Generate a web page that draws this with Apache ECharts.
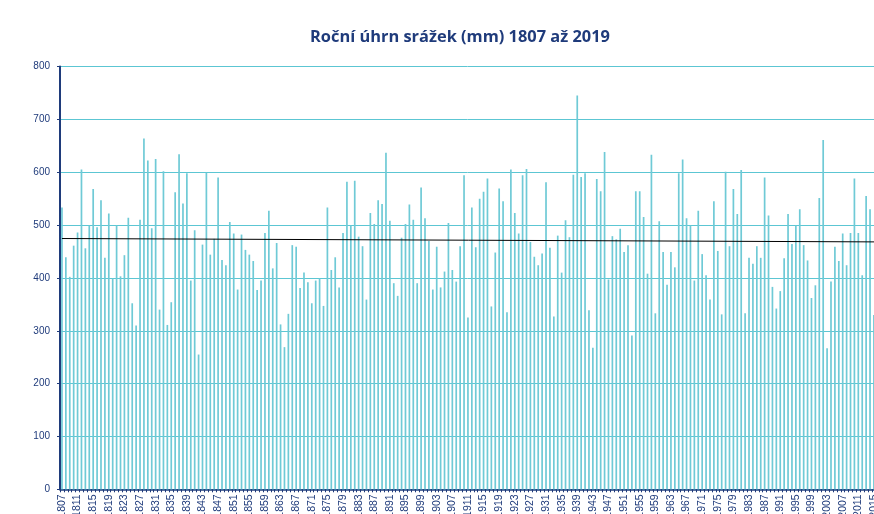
<!DOCTYPE html>
<html><head><meta charset="utf-8">
<script src="https://cdn.jsdelivr.net/npm/echarts@6/dist/echarts.min.js"></script>
<style>html,body{margin:0;padding:0;background:#fff}#c{width:874px;height:514px}</style>
</head><body><div id="c"></div>
<script>
const titleText = "Roční úhrn srážek (mm) 1807 až 2019";
const firstYear = 1807, lastYear = 2019;
const years = [];
for (let y = firstYear; y <= lastYear; y++) years.push(String(y));
const precip = [
533,439,402,461,486,605,456,499,568,496,547,438,522,399,499,403,443,514,352,310,
510,664,622,494,625,340,602,311,354,562,634,541,598,395,490,255,463,599,444,474,
590,434,424,506,484,378,482,453,444,432,377,395,485,527,418,466,312,269,332,462,
459,381,410,392,352,395,399,347,533,415,439,382,485,582,499,584,478,460,359,523,
502,547,540,637,508,390,366,476,502,539,510,390,571,513,470,378,459,382,412,504,
415,393,460,594,325,533,458,550,563,588,346,448,569,545,335,605,523,484,594,606,
468,440,424,446,581,457,327,480,410,509,477,595,745,591,598,339,268,587,564,638,
397,479,473,493,449,462,291,564,564,515,408,633,333,507,449,387,449,420,598,624,
513,499,395,527,445,405,359,545,451,331,601,460,568,521,604,333,438,427,460,438,
590,518,383,342,375,437,521,464,499,530,462,433,362,386,551,661,267,393,459,432,
484,424,485,588,485,405,555,530,330,520,560,420,510
];
const trendStart = 474.5, trendEnd = 468;
const yMin = 0, yMax = 800, yStep = 100;

const navy = '#1F3B7B';
const chart = echarts.init(document.getElementById('c'), null, {renderer:'canvas'});
chart.setOption({
  animation: false,
  backgroundColor: '#fff',
  graphic: [{type:'text', x:460, y:37, style:{text:titleText, textAlign:'center', textVerticalAlign:'middle', font:'bold 16.4px "Open Sans", "Liberation Sans", sans-serif', fill:navy}}],
  grid: {left: 60, top: 66.5, width: 831.5, height: 422.8, containLabel: false, outerBoundsMode: 'none'},
  xAxis: {
    type: 'category', data: years, boundaryGap: true,
    axisLine: {lineStyle: {color: navy, width: 1.5}},
    axisTick: {show: true, interval: 0, length: 3, lineStyle: {color: navy}},
    axisLabel: {interval: 3, rotate: 90, margin: 5, color: navy, fontSize: 10.5, fontFamily: '"Liberation Sans", sans-serif', hideOverlap: false},
    splitLine: {show: false}
  },
  yAxis: {
    type: 'value', min: yMin, max: yMax, interval: yStep,
    axisLine: {show: true, lineStyle: {color: navy, width: 2}},
    axisTick: {show: true, length: 3, lineStyle: {color: navy}},
    axisLabel: {color: navy, fontSize: 10, margin: 10, fontFamily: '"Liberation Sans", sans-serif'},
    splitLine: {show: true, lineStyle: {color: '#5CC6D3', width: 1}}
  },
  series: [{
    type: 'bar', data: precip, barWidth: 1.7,
    itemStyle: {color: '#6FCAD6'},
    markLine: {
      silent: true, symbol: ['none','none'], label: {show: false},
      lineStyle: {color: '#000', width: 1, type: 'solid'},
      data: [[{coord: [years[0], trendStart]}, {coord: [years[years.length-1], trendEnd]}]]
    }
  }]
});
</script></body></html>
